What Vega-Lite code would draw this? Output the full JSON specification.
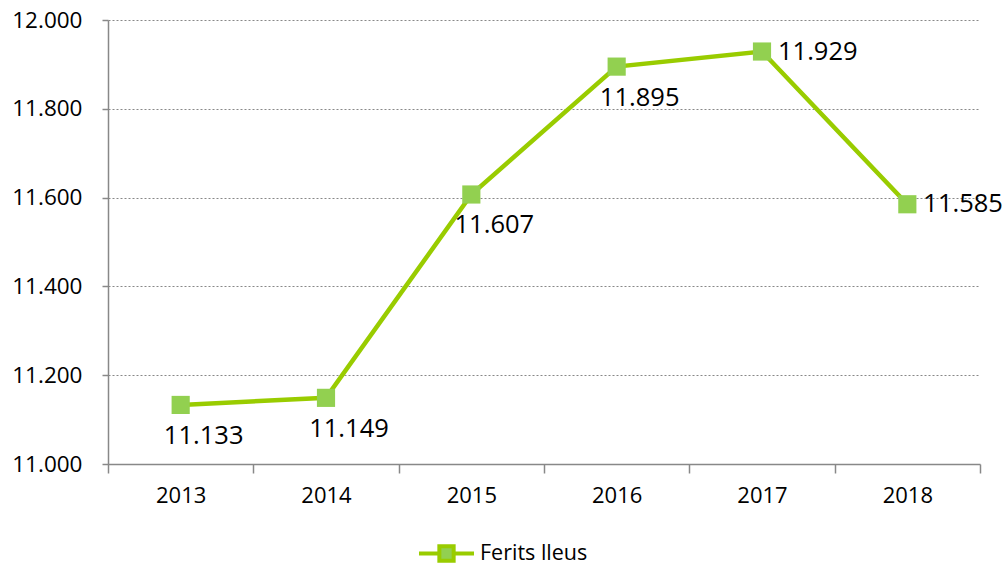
{
  "$schema": "https://vega.github.io/schema/vega-lite/v6.json",
  "autosize": {"type": "none"},
  "width": 872,
  "height": 444,
  "padding": {"left": 108, "top": 20, "right": 27, "bottom": 102},
  "background": "white",
  "config": {
    "locale": {"number": {"decimal": ",", "thousands": ".", "grouping": [3], "currency": ["", " €"]}},
    "font": "Open Sans",
    "view": {"stroke": null},
    "axis": {"labelFont": "Open Sans", "labelColor": "#000000", "domainColor": "#888888", "tickColor": "#888888", "titleFont": "Open Sans"}
  },
  "data": {"values": [
    {"year": "2013", "value": 11133, "serie": "Ferits lleus"},
    {"year": "2014", "value": 11149, "serie": "Ferits lleus"},
    {"year": "2015", "value": 11607, "serie": "Ferits lleus"},
    {"year": "2016", "value": 11895, "serie": "Ferits lleus"},
    {"year": "2017", "value": 11929, "serie": "Ferits lleus"},
    {"year": "2018", "value": 11585, "serie": "Ferits lleus"}
  ]},
  "encoding": {
    "x": {"field": "year", "type": "nominal", "sort": null,
      "scale": {"paddingInner": 0, "paddingOuter": 0},
      "axis": {"title": null, "labelAngle": 0, "labelFontSize": 22, "labelPadding": 12, "tickSize": 9, "tickBand": "extent", "grid": false, "domainWidth": 1.5, "tickWidth": 1.5}},
    "y": {"field": "value", "type": "quantitative",
      "scale": {"domain": [11000, 12000], "nice": false, "zero": false},
      "axis": {"title": null, "values": [11000, 11200, 11400, 11600, 11800, 12000], "format": ",d", "labelFontSize": 22.5, "labelPadding": 20, "tickSize": 6, "grid": true, "gridColor": "#888888", "gridDash": [2, 2], "gridWidth": 1, "domainWidth": 1.5, "tickWidth": 1.5}}
  },
  "layer": [
    {"mark": {"type": "line", "color": "#99CC00", "strokeWidth": 4.5},
     "encoding": {"color": {"field": "serie", "type": "nominal",
        "scale": {"range": ["#99CC00"]},
        "legend": {"title": null, "orient": "none", "legendX": 309, "legendY": 504, "direction": "horizontal",
          "labelFont": "Open Sans", "labelFontSize": 21.5, "labelColor": "#000000",
          "symbolType": "M-1,0H-0.33M0.33,0H1M-0.26,-0.26H0.26V0.26H-0.26Z",
          "symbolSize": 3025, "symbolStrokeWidth": 4, "symbolStrokeColor": "#99CC00", "symbolFillColor": "#92D050",
          "labelOffset": 4, "padding": 0}}}},
    {"mark": {"type": "square", "color": "#92D050", "size": 330, "opacity": 1, "filled": true}},
    {"transform": [{"filter": "datum.year <= '2016'"}],
     "mark": {"type": "text", "fontSize": 25.5, "font": "Open Sans", "color": "#000000", "align": "center", "baseline": "middle", "dx": 23, "dy": 31},
     "encoding": {"text": {"field": "value", "type": "quantitative", "format": ",d"}}},
    {"transform": [{"filter": "datum.year > '2016'"}],
     "mark": {"type": "text", "fontSize": 25.5, "font": "Open Sans", "color": "#000000", "align": "left", "baseline": "middle", "dx": 16, "dy": 0},
     "encoding": {"text": {"field": "value", "type": "quantitative", "format": ",d"}}}
  ]
}
